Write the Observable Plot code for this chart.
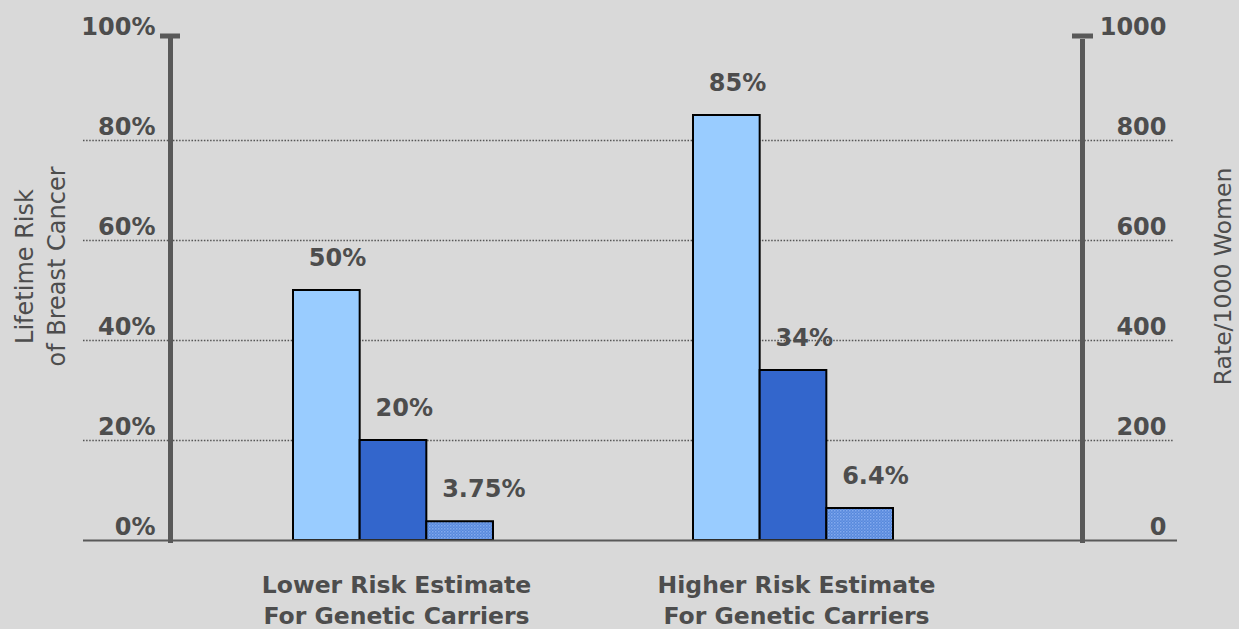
<!DOCTYPE html>
<html>
<head>
<meta charset="utf-8">
<script src="https://cdn.jsdelivr.net/npm/d3@7"></script>
<script src="https://cdn.jsdelivr.net/npm/@observablehq/plot@0.6"></script>
<style>
  html, body { margin: 0; padding: 0; background: #d9d9d9; }
  #chart svg { display: block; }
</style>
</head>
<body>
<div id="chart"></div>
<script>
// ---- data ----
const groupNames = ["Lower Risk Estimate\nFor Genetic Carriers", "Higher Risk Estimate\nFor Genetic Carriers"];
const seriesNames = ["Series 1", "Series 2", "Series 3"];
const lowerRiskValues = [50, 20, 3.75];
const higherRiskValues = [85, 34, 6.4];
const leftTickValues = [0, 20, 40, 60, 80, 100];
const leftTickLabels = ["0%", "20%", "40%", "60%", "80%", "100%"];
const rightTickLabels = ["0", "200", "400", "600", "800", "1000"];
const gridValues = [20, 40, 60, 80];
const leftTitle = "Lifetime Risk\nof Breast Cancer";
const rightTitle = "Rate/1000 Women";

// ---- table ----
const groupValues = [lowerRiskValues, higherRiskValues];
const rows = groupNames.flatMap((g, gi) => seriesNames.map((s, si) => ({
  group: g, series: s, key: `${gi}-${si}`, value: groupValues[gi][si]
})));
const gapKeys = seriesNames.map((s, si) => `gap-${si}`);
const xDomain = [
  ...seriesNames.map((s, si) => `0-${si}`),
  ...gapKeys,
  ...seriesNames.map((s, si) => `1-${si}`)
];
const groupLabels = groupNames.map((g, gi) => ({label: g, key: `${gi}-1`}));

const ink = "#4d4d4d";
const axisInk = "#595959";
const font = "'DejaVu Sans', Verdana, sans-serif";

const plot = Plot.plot({
  width: 1239,
  height: 629,
  marginLeft: 170,
  marginRight: 157,
  marginTop: 40,
  marginBottom: 89,
  style: {background: "#d9d9d9", fontFamily: font, color: ink},
  x: {type: "band", domain: xDomain, range: [293, 893], padding: 0, round: false, axis: null},
  y: {domain: [0, 100], axis: null},
  color: {domain: seriesNames, range: ["#99ccff", "#3366cc", "url(#dotpat)"]},
  marks: [
    // dotted gridlines
    Plot.ruleY(gridValues, {stroke: "#555", strokeWidth: 1.3, strokeDasharray: "1.5,1.6", insetLeft: -87, insetRight: -91}),
    // bars
    Plot.barY(rows, {x: "key", y: "value", fill: "series", stroke: "#000", strokeWidth: 2, inset: 0}),
    // baseline
    Plot.ruleY([0], {stroke: axisInk, strokeWidth: 2, insetLeft: -87, insetRight: -95}),
    // vertical axis lines
    Plot.frame({anchor: "left", stroke: axisInk, strokeWidth: 5, insetTop: -4}),
    Plot.frame({anchor: "right", stroke: axisInk, strokeWidth: 5, insetTop: 1}),
    // caps
    Plot.ruleY([100], {stroke: axisInk, strokeWidth: 5, dy: -4.5, insetLeft: -10, insetRight: 902}),
    Plot.ruleY([100], {stroke: axisInk, strokeWidth: 5, dy: -4.5, insetLeft: 902, insetRight: -11}),
    // left tick labels
    Plot.axisY(leftTickValues, {anchor: "left", label: null, tickSize: 0, tickPadding: 15, dy: -13,
      tickFormat: d => leftTickLabels[leftTickValues.indexOf(d)],
      fontSize: 24, fontWeight: "bold", fill: ink}),
    // right tick labels
    Plot.axisY(leftTickValues, {anchor: "right", label: null, tickSize: 0, tickPadding: 84, textAnchor: "end", dy: -13,
      tickFormat: d => rightTickLabels[leftTickValues.indexOf(d)],
      fontSize: 24, fontWeight: "bold", fill: ink}),
    // value labels
    Plot.text(rows, {x: "key", y: "value", text: d => `${d.value}%`, textAnchor: "start", dx: -18, dy: -32,
      fontSize: 24, fontWeight: "bold", fill: ink}),
    // category labels
    Plot.text(groupLabels, {x: "key", y: () => 0, text: "label", lineAnchor: "top", lineHeight: 1.3, dy: 31, dx: 3,
      fontSize: 23.5, fontWeight: "bold", fill: ink}),
    // axis titles
    Plot.text([leftTitle], {frameAnchor: "left", rotate: -90, textAnchor: "middle", dx: -132, dy: -24, lineHeight: 1.35,
      fontSize: 24, fill: ink}),
    Plot.text([rightTitle], {frameAnchor: "right", rotate: -90, textAnchor: "middle", dx: 141, dy: -14,
      fontSize: 23.5, fill: ink})
  ]
});

// pattern for the third series
const svg = d3.select(plot);
const defs = svg.insert("defs", ":first-child");
const pat = defs.append("pattern").attr("id", "dotpat").attr("patternUnits", "userSpaceOnUse")
  .attr("width", 3).attr("height", 3);
pat.append("rect").attr("width", 3).attr("height", 3).attr("fill", "#5788dc");
pat.append("rect").attr("width", 1.5).attr("height", 1.5).attr("fill", "#82aaee");
pat.append("rect").attr("x", 1.5).attr("y", 1.5).attr("width", 1.5).attr("height", 1.5).attr("fill", "#6a98e4");

document.getElementById("chart").appendChild(plot);
</script>
</body>
</html>
